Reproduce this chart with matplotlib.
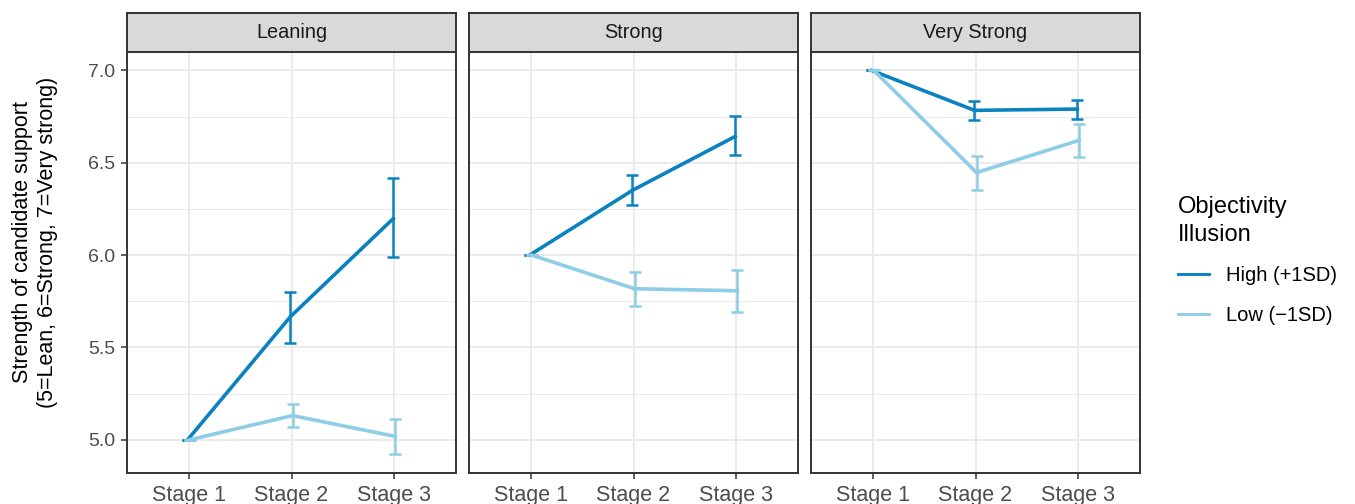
import numpy as np
import matplotlib.pyplot as plt
from matplotlib.lines import Line2D

plt.rcParams["font.family"] = ["Liberation Sans", "DejaVu Sans"]

stages = ["Stage 1", "Stage 2", "Stage 3"]
panels = ["Leaning", "Strong", "Very Strong"]
groups = ["High (+1SD)", "Low (\u22121SD)"]

# means and interval ends, one row per panel
high_mean = [[5.0, 5.667, 6.198], [6.0, 6.351, 6.643], [7.0, 6.784, 6.791]]
high_lower = [[5.0, 5.526, 5.988], [6.0, 6.270, 6.544], [7.0, 6.734, 6.739]]
high_upper = [[5.0, 5.802, 6.415], [6.0, 6.432, 6.751], [7.0, 6.832, 6.842]]
low_mean = [[5.0, 5.131, 5.018], [6.0, 5.818, 5.807], [7.0, 6.447, 6.622]]
low_lower = [[5.0, 5.069, 4.923], [6.0, 5.724, 5.694], [7.0, 6.355, 6.532]]
low_upper = [[5.0, 5.193, 5.114], [6.0, 5.910, 5.919], [7.0, 6.535, 6.708]]

col_high = "#0A82C0"
col_low = "#8DCDE5"

W, H = 1355, 504
fig = plt.figure(figsize=(W / 100, H / 100), dpi=100)

lefts = [127, 469, 811]
x = np.arange(1, 4)
series = [
    (high_mean, high_lower, high_upper, col_high, -0.01),
    (low_mean, low_lower, low_upper, col_low, 0.01),
]

for i, name in enumerate(panels):
    ax = fig.add_axes([lefts[i] / W, 1 - 473 / H, 329 / W, 421 / H])
    for mean, lo, hi, col, off in series:
        m = np.array(mean[i])
        err = [m - np.array(lo[i]), np.array(hi[i]) - m]
        ax.plot(x + off, m, color=col, lw=2.6, zorder=3)
        ax.errorbar(x + off, m, yerr=err, fmt="none", ecolor=col,
                    elinewidth=1.8, capsize=4, capthick=1.8, zorder=3)
    ax.set_xlim(0.4, 3.6)
    ax.set_ylim(4.82, 7.1)
    ax.set_xticks(x, stages)
    ax.set_yticks([5.0, 5.5, 6.0, 6.5, 7.0], ["5.0", "5.5", "6.0", "6.5", "7.0"])
    ax.set_yticks([5.25, 5.75, 6.25, 6.75], minor=True)
    ax.grid(which="major", color="#EBEBEB", lw=1.4)
    ax.grid(which="minor", axis="y", color="#EBEBEB", lw=0.7)
    ax.set_axisbelow(True)
    for s in ax.spines.values():
        s.set_color("#333333")
        s.set_linewidth(1.4)
    ax.tick_params(which="major", length=4.3, width=1.1, color="#333333",
                   labelcolor="#4D4D4D")
    ax.tick_params(axis="y", which="minor", length=0)
    ax.tick_params(axis="x", labelsize=15.5, pad=4.5)
    ax.tick_params(axis="y", labelsize=14, pad=4)
    if i > 0:
        ax.tick_params(axis="y", length=0, labelleft=False)

    sax = fig.add_axes([lefts[i] / W, 1 - 52 / H, 329 / W, 39.3 / H])
    sax.set_facecolor("#D9D9D9")
    sax.set_xticks([])
    sax.set_yticks([])
    for s in sax.spines.values():
        s.set_color("#333333")
        s.set_linewidth(1.4)
    sax.text(0.5, 0.5, name, ha="center", va="center", fontsize=14.3,
             color="#1A1A1A", transform=sax.transAxes)

fig.text(35 / W, 262 / H,
         "Strength of candidate support\n(5=Lean, 6=Strong, 7=Very strong)",
         rotation=90, ha="center", va="center", fontsize=15.5,
         linespacing=1.25, multialignment="center")

handles = [Line2D([], [], color=col_high, lw=2.1),
           Line2D([], [], color=col_low, lw=2.1)]
leg = fig.legend(handles, groups, title="Objectivity\nIllusion", loc="upper left",
                 bbox_to_anchor=(1178 / W, 1 - 196 / H), frameon=False,
                 fontsize=14.5, title_fontsize=17, handlelength=1.54,
                 handletextpad=0.85, labelspacing=1.02, borderpad=0,
                 borderaxespad=0, alignment="left")
leg.get_title().set_linespacing(1.35)

fig.savefig("out.png", dpi=100)
